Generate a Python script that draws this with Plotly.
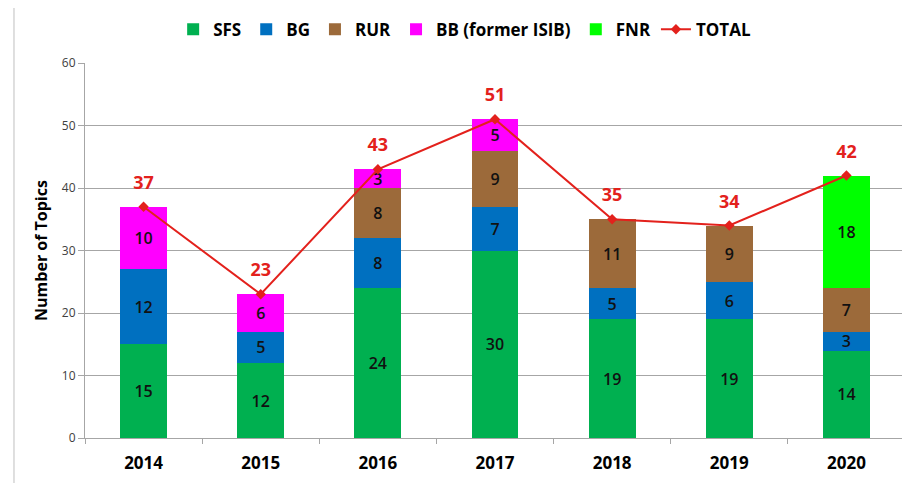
import plotly.graph_objects as go

years = ["2014", "2015", "2016", "2017", "2018", "2019", "2020"]
sfs = [15, 12, 24, 30, 19, 19, 14]
bg = [12, 5, 8, 7, 5, 6, 3]
rur = [0, 0, 8, 9, 11, 9, 7]
bb = [10, 6, 3, 5, 0, 0, 0]
fnr = [0, 0, 0, 0, 0, 0, 18]
total = [37, 23, 43, 51, 35, 34, 42]

series = [
    ("SFS", sfs, "#00B050"),
    ("BG", bg, "#0070C0"),
    ("RUR", rur, "#9C6A3A"),
    ("BB (former ISIB)", bb, "#FF00FF"),
    ("FNR", fnr, "#00FF00"),
]

FONT = "Open Sans"
RED = "#E3211C"
fig = go.Figure()
for name, vals, col in series:
    fig.add_trace(go.Bar(
        x=years, y=vals, name=f"<b>{name}</b>", marker=dict(color=col, line=dict(width=0)),
        text=[str(v) if v else "" for v in vals], textposition="inside",
        insidetextanchor="middle", textangle=0, constraintext="none",
        textfont=dict(color="#111111", size=16, family=FONT, weight=600),
        width=0.4,
    ))

fig.add_trace(go.Scatter(
    x=years, y=total, name="<b>TOTAL</b>", mode="lines+markers",
    line=dict(color=RED, width=2),
    marker=dict(symbol="diamond", size=8, color=RED),
))
# total value labels (invisible larger markers push text further up)
fig.add_trace(go.Scatter(
    x=years, y=total, mode="markers+text", showlegend=False, hoverinfo="skip",
    marker=dict(size=20, opacity=0, color=RED),
    text=[f"<b>{v}</b>" for v in total], textposition="top center",
    textfont=dict(color=RED, size=18, family=FONT),
))

fig.update_layout(
    barmode="stack",
    width=910, height=483,
    margin=dict(l=77, r=13, t=55, b=53, autoexpand=False),
    paper_bgcolor="white", plot_bgcolor="white",
    font=dict(family=FONT, color="black"),
    legend=dict(orientation="h", x=0.463, xanchor="center", y=1.041, yanchor="bottom",
                font=dict(size=17, family=FONT), traceorder="normal",
                bgcolor="rgba(0,0,0,0)", itemwidth=30),
    showlegend=True,
)
fig.update_yaxes(range=[0, 60], dtick=10, showgrid=True, gridcolor="#A6A6A6", gridwidth=1,
                 showline=True, linecolor="#A6A6A6", ticks="outside", ticklen=6,
                 tickcolor="#A6A6A6", tickfont=dict(size=12, color="#404040"),
                 title=dict(text="<b>Number of Topics</b>", font=dict(size=16), standoff=10),
                 zeroline=False)
fig.update_xaxes(showline=True, linecolor="#A6A6A6", ticks="outside", tickson="boundaries",
                 ticklen=5, tickcolor="#A6A6A6", tickfont=dict(size=17),
                 ticklabelstandoff=10,
                 tickprefix="<b>", ticksuffix="</b>")
fig.add_shape(type="line", xref="paper", yref="paper", x0=-0.0866, x1=-0.0866, y0=-0.3, y1=1.3,
              line=dict(color="#BFBFBF", width=1))

fig.write_html("out.html")
